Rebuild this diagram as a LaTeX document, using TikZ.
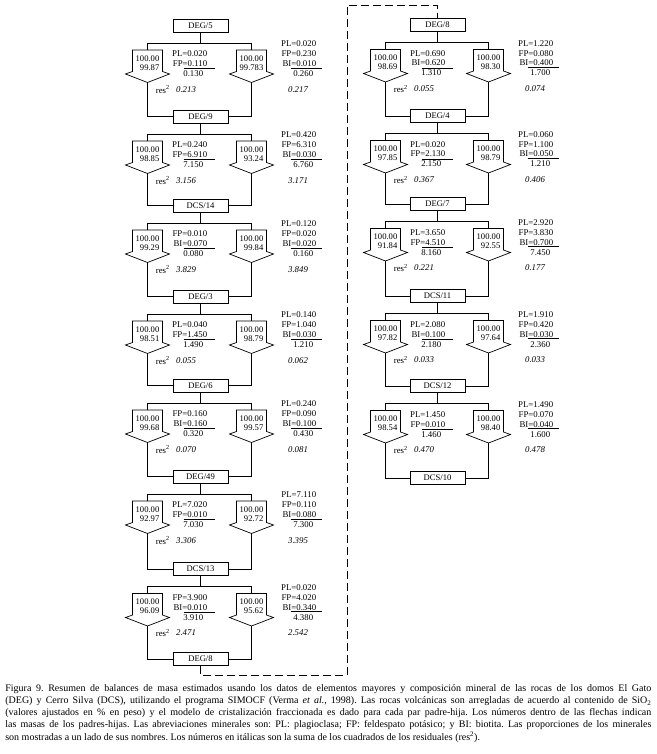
\documentclass[tikz,border=0pt]{standalone}
\usepackage{fontspec}
\setmainfont{Liberation Serif}
\frenchspacing
\newcommand\mbArrow[3]{%
  \draw[arrowbody] ({#2-15},{#3+24.5}) -- ({#2+15},{#3+24.5}) -- ({#2+15},{#3+46}) -- ({#2+22},{#3+48.5}) -- ({#2},{#3+57}) -- ({#2-22},{#3+48.5}) -- ({#2-15},{#3+46}) -- cycle;
  \coordinate (#1h) at ({#2},{#3+17.5});
  \coordinate (#1t) at ({#2},{#3+24.5});
  \coordinate (#1b) at ({#2},{#3+57});
}
\newcommand\mbLeft[7]{%
  \mbArrow{#1}{#2}{#3}
  \node[arrtxt] (#1m) at ({#2},{#3+37.5}) {100.00\\#4};
  \node[lab, anchor=base east] (#1l) at ({#2+60},{#3+41}) {\begin{tabular}[b]{@{}r@{}}#5\end{tabular}};
  \draw ({#2+36},{#3+43}) -- ({#2+67},{#3+43});
  \node[lab, anchor=base east] (#1s) at ({#2+56},{#3+51}) {#6};
  \node[lab, anchor=west] (#1q) at ({#2+8},{#3+64}) {res\textsuperscript{2}};
  \node[resv] (#1r) at ({#2+38.5},{#3+64}) {#7};
}
\newcommand\mbRight[7]{%
  \mbArrow{#1}{#2}{#3}
  \node[arrtxt] (#1m) at ({#2},{#3+37.5}) {100.00\\#4};
  \node[lab, anchor=base east] (#1l) at ({#2+65},{#3+41}) {\begin{tabular}[b]{@{}r@{}}#5\end{tabular}};
  \draw ({#2+39},{#3+42.5}) -- ({#2+70},{#3+42.5});
  \node[lab, anchor=base east] (#1s) at ({#2+62},{#3+51}) {#6};
  \node[resv] (#1r) at ({#2+46.5},{#3+64}) {#7};
}
\newcommand\mbLink[3]{%
  \draw (#1.south) -- (#1.south |- #3Lh);
  \draw (#3Lt) -- (#3Lh) -- (#3Rh) -- (#3Rt);
  \draw (#3Lb) |- (#2.west);
  \draw (#3Rb) |- (#2.east);
}
\begin{document}
\begin{tikzpicture}[x=1pt,y=-1pt, line width=0.7pt,
  box/.style={draw, minimum width=55pt, minimum height=13pt, inner sep=0pt, font=\fontsize{8.6}{9}\selectfont},
  lab/.style={inner sep=0pt, font=\fontsize{8.8}{9.8}\selectfont},
  arrtxt/.style={inner sep=0pt, align=right, font=\fontsize{8.6}{8.7}\selectfont},
  resv/.style={inner sep=0pt, font=\fontsize{8.8}{9.8}\selectfont\itshape},
  arrowbody/.style={draw, line join=miter},
  dashline/.style={dash pattern=on 8pt off 4pt}
]
\path[use as bounding box] (0,0) rectangle (656,754);
% boxes left column
\node[box] (L1) at (200.5,25.5) {DEG/5};
\node[box] (L2) at (200.5,116.5) {DEG/9};
\node[box] (L3) at (200.5,205.5) {DCS/14};
\node[box] (L4) at (200.5,296.5) {DEG/3};
\node[box] (L5) at (200.5,385.5) {DEG/6};
\node[box] (L6) at (200.5,476.5) {DEG/49};
\node[box] (L7) at (200.5,569) {DCS/13};
\node[box] (L8) at (200.5,659) {DEG/8};
% boxes right column
\node[box] (R1) at (437.5,25) {DEG/8};
\node[box] (R2) at (437.5,116) {DEG/4};
\node[box] (R3) at (437.5,204) {DEG/7};
\node[box] (R4) at (437.5,296) {DCS/11};
\node[box] (R5) at (437.5,386) {DCS/12};
\node[box] (R6) at (437.5,478) {DCS/10};
% left column blocks
\mbLeft{p1L}{147.5}{25.5}{99.87}{PL=0.020\\FP=0.110}{0.130}{0.213}
\mbRight{p1R}{251.5}{25.5}{99.783}{PL=0.020\\FP=0.230\\BI=0.010}{0.260}{0.217}
\mbLink{L1}{L2}{p1}
\mbLeft{p2L}{147.5}{116.5}{98.85}{PL=0.240\\FP=6.910}{7.150}{3.156}
\mbRight{p2R}{251.5}{116.5}{93.24}{PL=0.420\\FP=6.310\\BI=0.030}{6.760}{3.171}
\mbLink{L2}{L3}{p2}
\mbLeft{p3L}{147.5}{205.5}{99.29}{FP=0.010\\BI=0.070}{0.080}{3.829}
\mbRight{p3R}{251.5}{205.5}{99.84}{PL=0.120\\FP=0.020\\BI=0.020}{0.160}{3.849}
\mbLink{L3}{L4}{p3}
\mbLeft{p4L}{147.5}{296.5}{98.51}{PL=0.040\\FP=1.450}{1.490}{0.055}
\mbRight{p4R}{251.5}{296.5}{98.79}{PL=0.140\\FP=1.040\\BI=0.030}{1.210}{0.062}
\mbLink{L4}{L5}{p4}
\mbLeft{p5L}{147.5}{385.5}{99.68}{FP=0.160\\BI=0.160}{0.320}{0.070}
\mbRight{p5R}{251.5}{385.5}{99.57}{PL=0.240\\FP=0.090\\BI=0.100}{0.430}{0.081}
\mbLink{L5}{L6}{p5}
\mbLeft{p6L}{147.5}{476.5}{92.97}{PL=7.020\\FP=0.010}{7.030}{3.306}
\mbRight{p6R}{251.5}{476.5}{92.72}{PL=7.110\\FP=0.110\\BI=0.080}{7.300}{3.395}
\mbLink{L6}{L7}{p6}
\mbLeft{p7L}{147.5}{569}{96.09}{FP=3.900\\BI=0.010}{3.910}{2.471}
\mbRight{p7R}{251.5}{569}{95.62}{PL=0.020\\FP=4.020\\BI=0.340}{4.380}{2.542}
\mbLink{L7}{L8}{p7}
% right column blocks
\mbLeft{q1L}{385.5}{25}{98.69}{PL=0.690\\BI=0.620}{1.310}{0.055}
\mbRight{q1R}{488.5}{25}{98.30}{PL=1.220\\FP=0.080\\BI=0.400}{1.700}{0.074}
\mbLink{R1}{R2}{q1}
\mbLeft{q2L}{385.5}{116}{97.85}{PL=0.020\\FP=2.130}{2.150}{0.367}
\mbRight{q2R}{488.5}{116}{98.79}{PL=0.060\\FP=1.100\\BI=0.050}{1.210}{0.406}
\mbLink{R2}{R3}{q2}
\mbLeft{q3L}{385.5}{204}{91.84}{PL=3.650\\FP=4.510}{8.160}{0.221}
\mbRight{q3R}{488.5}{204}{92.55}{PL=2.920\\FP=3.830\\BI=0.700}{7.450}{0.177}
\mbLink{R3}{R4}{q3}
\mbLeft{q4L}{385.5}{296}{97.82}{PL=2.080\\BI=0.100}{2.180}{0.033}
\mbRight{q4R}{488.5}{296}{97.64}{PL=1.910\\FP=0.420\\BI=0.030}{2.360}{0.033}
\mbLink{R4}{R5}{q4}
\mbLeft{q5L}{385.5}{386}{98.54}{PL=1.450\\FP=0.010}{1.460}{0.470}
\mbRight{q5R}{488.5}{386}{98.40}{PL=1.490\\FP=0.070\\BI=0.040}{1.600}{0.478}
\mbLink{R5}{R6}{q5}
% dashed continuation
\coordinate (dlow) at (347,675);
\coordinate (dtop) at (347,5);
\draw[dashline] (L8.south) |- (dlow) -- (dtop) -| (R1.north);
% caption
\node[anchor=north west, inner sep=0pt, text width=646pt, align=justify,
      font=\fontsize{10}{12.2}\selectfont] (cap) at (5,684)
{Figura 9. Resumen de balances de masa estimados usando los datos de elementos mayores y composición mineral de las rocas de los domos El Gato\linebreak
(DEG) y Cerro Silva (DCS), utilizando el programa SIMOCF (Verma \textit{et al.}, 1998). Las rocas volcánicas son arregladas de acuerdo al contenido de SiO\textsubscript{2}\linebreak
(valores ajustados en \% en peso) y el modelo de cristalización fraccionada es dado para cada par padre-hija. Los números dentro de las flechas indican\linebreak
las masas de los padres-hijas. Las abreviaciones minerales son: PL: plagioclasa; FP: feldespato potásico; y BI: biotita. Las proporciones de los minerales\linebreak
son mostradas a un lado de sus nombres. Los números en itálicas son la suma de los cuadrados de los residuales (res\textsuperscript{2}).};
\end{tikzpicture}
\end{document}
